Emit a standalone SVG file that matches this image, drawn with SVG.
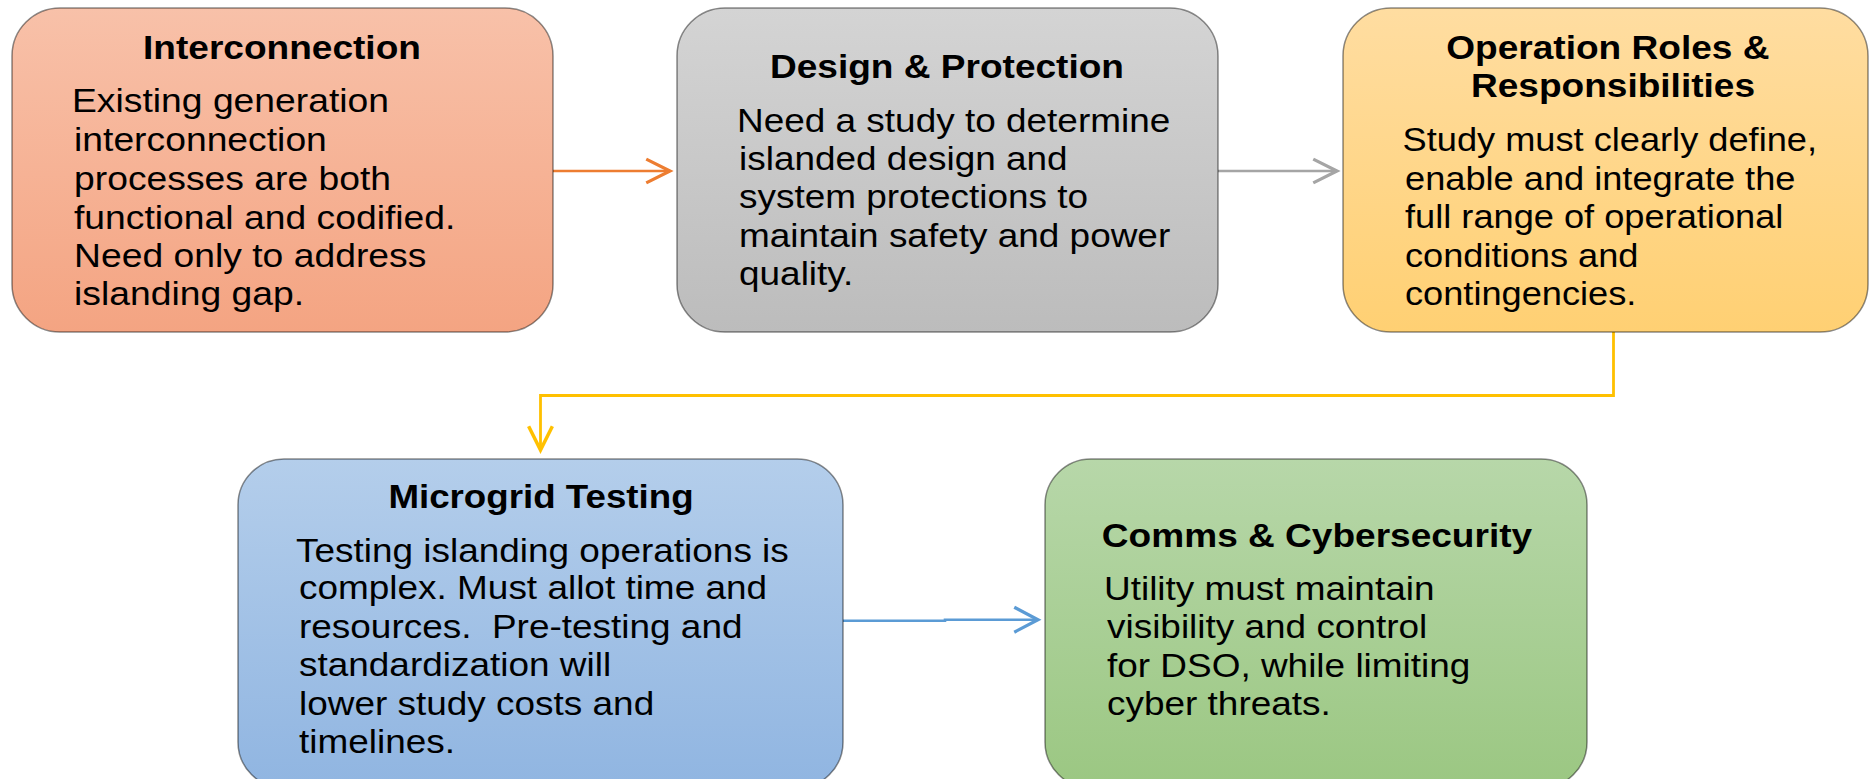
<svg xmlns="http://www.w3.org/2000/svg" width="1870" height="779" viewBox="0 0 1870 779">
  <defs>
    <linearGradient id="gOrange" x1="0" y1="0" x2="0" y2="1">
      <stop offset="0" stop-color="#F8C1A9"/>
      <stop offset="1" stop-color="#F4A482"/>
    </linearGradient>
    <linearGradient id="gGrey" x1="0" y1="0" x2="0" y2="1">
      <stop offset="0" stop-color="#D4D4D4"/>
      <stop offset="1" stop-color="#BCBCBC"/>
    </linearGradient>
    <linearGradient id="gYellow" x1="0" y1="0" x2="0" y2="1">
      <stop offset="0" stop-color="#FFDDA1"/>
      <stop offset="1" stop-color="#FFD073"/>
    </linearGradient>
    <linearGradient id="gBlue" x1="0" y1="0" x2="0" y2="1">
      <stop offset="0" stop-color="#B4CEEB"/>
      <stop offset="1" stop-color="#90B5E1"/>
    </linearGradient>
    <linearGradient id="gGreen" x1="0" y1="0" x2="0" y2="1">
      <stop offset="0" stop-color="#B7D7A9"/>
      <stop offset="1" stop-color="#9BC782"/>
    </linearGradient>
    <marker id="mOrange" markerUnits="userSpaceOnUse" markerWidth="30" markerHeight="30" refX="0" refY="0" viewBox="-22 -12 24 24" orient="auto" overflow="visible">
      <path d="M-19,-9.5 L0,0 L-19,9.5" fill="none" stroke="#ED7D31" stroke-width="2.6" stroke-linejoin="miter"/>
    </marker>
    <marker id="mGrey" markerUnits="userSpaceOnUse" markerWidth="30" markerHeight="30" refX="0" refY="0" viewBox="-22 -12 24 24" orient="auto" overflow="visible">
      <path d="M-19,-9.5 L0,0 L-19,9.5" fill="none" stroke="#A5A5A5" stroke-width="2.6" stroke-linejoin="miter"/>
    </marker>
    <marker id="mYellow" markerUnits="userSpaceOnUse" markerWidth="30" markerHeight="30" refX="0" refY="0" viewBox="-22 -12 24 24" orient="auto" overflow="visible">
      <path d="M-19,-9.5 L0,0 L-19,9.5" fill="none" stroke="#FFC000" stroke-width="2.8" stroke-linejoin="miter"/>
    </marker>
    <marker id="mBlue" markerUnits="userSpaceOnUse" markerWidth="30" markerHeight="30" refX="0" refY="0" viewBox="-22 -12 24 24" orient="auto" overflow="visible">
      <path d="M-19,-10 L0,0 L-19,10" fill="none" stroke="#5B9BD5" stroke-width="2.6" stroke-linejoin="miter"/>
    </marker>
  </defs>
  <style>
    .box { stroke: #000000; stroke-opacity: 0.45; stroke-width: 1.5; }
    .title { font-family: "Liberation Sans", Arial, sans-serif; font-weight: bold; font-size: 34px; fill: #000; text-anchor: middle; }
    .body { font-family: "Liberation Sans", Arial, sans-serif; font-size: 33px; fill: #000; }
    .body3 { font-family: "Liberation Sans", Arial, sans-serif; font-size: 34px; fill: #000; }
    .conn { fill: none; stroke-linecap: butt; stroke-linejoin: miter; }
  </style>
  <rect width="1870" height="779" fill="#FFFFFF"/>

  <g id="connectors">
    <path class="conn" d="M553,171 H670" stroke="#ED7D31" stroke-width="2.6" marker-end="url(#mOrange)"/>
    <path class="conn" d="M1218,171 H1337" stroke="#A5A5A5" stroke-width="2.6" marker-end="url(#mGrey)"/>
    <path class="conn" d="M1613.5,332 V395.5 H540.5 V450" stroke="#FFC000" stroke-width="2.8" marker-end="url(#mYellow)"/>
    <path class="conn" d="M843,620.7 H945 V619.7 H1038" stroke="#5B9BD5" stroke-width="2.6" marker-end="url(#mBlue)"/>
  </g>

  <g id="node-interconnection">
    <rect class="box" x="12" y="8" width="541" height="324" rx="48" ry="48" fill="url(#gOrange)"/>
    <text class="title" transform="translate(282 59) scale(1.09 1)" x="0" y="0">Interconnection</text>
    <text class="body" transform="translate(74 0) scale(1.13 1)">
      <tspan x="-1.8" y="112">Existing generation</tspan>
      <tspan x="0" y="151">interconnection</tspan>
      <tspan x="0" y="190">processes are both</tspan>
      <tspan x="0" y="229">functional and codified.</tspan>
      <tspan x="0" y="267">Need only to address</tspan>
      <tspan x="0" y="305">islanding gap.</tspan>
    </text>
  </g>

  <g id="node-design-protection">
    <rect class="box" x="677" y="8" width="541" height="324" rx="48" ry="48" fill="url(#gGrey)"/>
    <text class="title" transform="translate(947 78) scale(1.09 1)" x="0" y="0">Design &amp; Protection</text>
    <text class="body" transform="translate(739 0) scale(1.12 1)">
      <tspan x="-1.8" y="132">Need a study to determine</tspan>
      <tspan x="0" y="170">islanded design and</tspan>
      <tspan x="0" y="208">system protections to</tspan>
      <tspan x="0" y="247">maintain safety and power</tspan>
      <tspan x="0" y="285">quality.</tspan>
    </text>
  </g>

  <g id="node-operation-roles">
    <rect class="box" x="1343" y="8" width="525" height="324" rx="48" ry="48" fill="url(#gYellow)"/>
    <text class="title" transform="translate(1613 0) scale(1.09 1)">
      <tspan x="0" y="59">Operation Roles &amp;</tspan>
      <tspan x="0" y="97">Responsibilities</tspan>
    </text>
    <text class="body3" transform="translate(1405 0) scale(1.065 1)">
      <tspan x="-2.3" y="151">Study must clearly define,</tspan>
      <tspan x="0" y="190">enable and integrate the</tspan>
      <tspan x="0" y="228">full range of operational</tspan>
      <tspan x="0" y="267">conditions and</tspan>
      <tspan x="0" y="305">contingencies.</tspan>
    </text>
  </g>

  <g id="node-microgrid-testing">
    <rect class="box" x="238" y="459" width="605" height="329" rx="46" ry="46" fill="url(#gBlue)"/>
    <text class="title" transform="translate(541 508) scale(1.08 1)" x="0" y="0">Microgrid Testing</text>
    <text class="body" transform="translate(299 0) scale(1.12 1)">
      <tspan x="-2.7" y="562">Testing islanding operations is</tspan>
      <tspan x="0" y="599">complex. Must allot time and</tspan>
      <tspan x="0" y="638">resources.&#160; Pre-testing and</tspan>
      <tspan x="0" y="676">standardization will</tspan>
      <tspan x="0" y="715">lower study costs and</tspan>
      <tspan x="0" y="753">timelines.</tspan>
    </text>
  </g>

  <g id="node-comms-cybersecurity">
    <rect class="box" x="1045" y="459" width="542" height="329" rx="46" ry="46" fill="url(#gGreen)"/>
    <text class="title" transform="translate(1317 547) scale(1.09 1)" x="0" y="0">Comms &amp; Cybersecurity</text>
    <text class="body" transform="translate(1107 0) scale(1.12 1)">
      <tspan x="-2.7" y="600">Utility must maintain</tspan>
      <tspan x="0" y="638">visibility and control</tspan>
      <tspan x="0" y="677">for DSO, while limiting</tspan>
      <tspan x="0" y="715">cyber threats.</tspan>
    </text>
  </g>
</svg>
